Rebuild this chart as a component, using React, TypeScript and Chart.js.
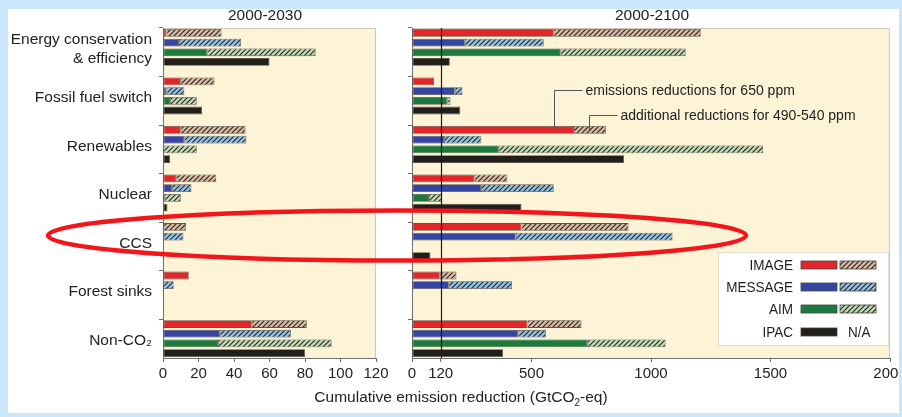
import { useEffect, useRef } from 'react';
import { Chart, registerables } from 'chart.js';

Chart.register(...registerables);

const FONT = "'Liberation Sans', Arial, Helvetica, sans-serif";

const categories = [
  'Energy conservation\n& efficiency',
  'Fossil fuel switch',
  'Renewables',
  'Nuclear',
  'CCS',
  'Forest sinks',
  'Non-CO₂',
];
const models = ['IMAGE', 'MESSAGE', 'AIM', 'IPAC'];

// 2000-2030 (GtCO2-eq): reductions for 650 ppm, and additional for 490-540 ppm
const image650_2030 = [2, 10, 10, 7.5, null, 14.5, 50];
const imageAdd_2030 = [31, 19, 36.5, 22.5, 13, null, 31];
const message650_2030 = [9, 2, 12, 5, null, null, 32];
const messageAdd_2030 = [35, 10, 35, 11, 11.5, 6, 40];
const aim650_2030 = [25, 4, null, 1, null, null, 31];
const aimAdd_2030 = [61, 15, 19, 9, null, null, 64];
const ipac650_2030 = [60, 22, 4, 2.5, 0.6, null, 80];

// 2000-2100
const image650_2100 = [593, 92, 678, 262, 458, 116, 483];
const imageAdd_2100 = [615, null, 133, 137, 448, 70, 226];
const message650_2100 = [221, 179, 134, 289, 434, 154, 445];
const messageAdd_2100 = [330, 32, 156, 304, 656, 265, 115];
const aim650_2100 = [622, 148, 363, 71, null, null, 733];
const aimAdd_2100 = [523, 13, 1106, 53, null, null, 328];
const ipac650_2100 = [158, 202, 887, 458, 77, null, 381];

const ticks2030 = [0, 20, 40, 60, 80, 100, 120];
const ticks2100 = [0, 120, 500, 1000, 1500, 2000];
const marker2100 = 120;

const annotations2100 = [
  { text: 'emissions reductions for 650 ppm', value: 593, barRow: 10, textRow: 5.9 },
  { text: 'additional reductions for 490-540 ppm', value: 740, barRow: 10, textRow: 8.45 },
];

const solidColors = ['#e2272b', '#3445a5', '#1d7a3f', '#221e1b'];
const hatchColors = ['#dab9a3', '#8fc3ea', '#bedcb6', null];

const GROUP = 5;
const rowCount = categories.length * GROUP - 1;
const rowLabels = Array.from({ length: rowCount }, (_, r) => 'r' + r);

const PLOT_TOP = 28;
const PLOT_BOTTOM = 358;
const rowPitch = (PLOT_BOTTOM - PLOT_TOP) / rowCount;

function makeHatch(bg: string): CanvasPattern {
  const s = 5;
  const c = document.createElement('canvas');
  c.width = s;
  c.height = s;
  const g = c.getContext('2d')!;
  g.fillStyle = bg;
  g.fillRect(0, 0, s, s);
  g.strokeStyle = '#2a2522';
  g.lineWidth = 1.15;
  g.beginPath();
  g.moveTo(0, s);
  g.lineTo(s, 0);
  g.moveTo(-1, 1);
  g.lineTo(1, -1);
  g.moveTo(s - 1, s + 1);
  g.lineTo(s + 1, s - 1);
  g.stroke();
  return g.createPattern(c, 'repeat')!;
}

function toRows(values: (number | null)[], model: number) {
  const out: (number | null)[] = new Array(rowCount).fill(null);
  values.forEach((v, g) => {
    out[g * GROUP + model] = v;
  });
  return out;
}

const framePlugin = {
  id: 'frame',
  beforeDraw(chart: any) {
    const { ctx, chartArea: a } = chart;
    ctx.save();
    ctx.fillStyle = '#fdf3d6';
    ctx.fillRect(a.left, a.top, a.right - a.left, a.bottom - a.top);
    ctx.strokeStyle = '#cfc8b8';
    ctx.lineWidth = 1;
    ctx.beginPath();
    ctx.moveTo(a.left, a.top + 0.5);
    ctx.lineTo(a.right - 0.5, a.top + 0.5);
    ctx.lineTo(a.right - 0.5, a.bottom);
    ctx.stroke();
    ctx.restore();
  },
};

const markerPlugin = {
  id: 'marker',
  afterDatasetsDraw(chart: any) {
    const { ctx, chartArea: a, scales } = chart;
    const x = Math.round(scales.x.getPixelForValue(marker2100)) + 0.5;
    ctx.save();
    ctx.strokeStyle = '#1a1a1a';
    ctx.lineWidth = 1.2;
    ctx.beginPath();
    ctx.moveTo(x, a.top);
    ctx.lineTo(x, a.bottom);
    ctx.stroke();
    ctx.restore();
  },
};

function makeAnnotationPlugin() {
  return {
    id: 'notes',
    afterDraw(chart: any) {
      const { ctx, scales } = chart;
      ctx.save();
      annotations2100.forEach((n) => {
        const x = Math.round(scales.x.getPixelForValue(n.value)) + 0.5;
        const yb = scales.y.getPixelForValue(n.barRow);
        const yt = Math.round(scales.y.getPixelForValue(n.textRow)) + 0.5;
        ctx.strokeStyle = '#555';
        ctx.lineWidth = 1;
        ctx.beginPath();
        ctx.moveTo(x, yb);
        ctx.lineTo(x, yt);
        ctx.lineTo(x + 28, yt);
        ctx.stroke();
        ctx.fillStyle = '#222';
        ctx.font = `14px ${FONT}`;
        ctx.textAlign = 'left';
        ctx.textBaseline = 'middle';
        ctx.fillText(n.text, x + 31, yt + 0.5);
      });
      ctx.restore();
    },
  };
}

function makeLegendPlugin(patterns: (CanvasPattern | null)[]) {
  return {
    id: 'legendBox',
    afterDraw(chart: any) {
      const { ctx, chartArea: a } = chart;
      const w = 171;
      const h = 94;
      const x0 = a.right - 1 - w;
      const y0 = a.bottom - 12 - h;
      ctx.save();
      ctx.fillStyle = '#ffffff';
      ctx.fillRect(x0, y0, w, h);
      ctx.strokeStyle = '#e4ded0';
      ctx.lineWidth = 1;
      ctx.strokeRect(x0 + 0.5, y0 + 0.5, w - 1, h - 1);
      models.forEach((m, i) => {
        const cy = Math.round(y0 + 13 + i * 22.2);
        ctx.save();
        ctx.translate(x0 + 75, cy);
        ctx.scale(0.9, 1);
        ctx.font = `15px ${FONT}`;
        ctx.textAlign = 'right';
        ctx.textBaseline = 'middle';
        ctx.fillStyle = '#1e1e1e';
        ctx.fillText(m, 0, 1);
        ctx.restore();
        ctx.fillStyle = solidColors[i];
        ctx.fillRect(x0 + 83, cy - 4, 36, 8);
        ctx.strokeStyle = '#444';
        ctx.lineWidth = 0.8;
        ctx.strokeRect(x0 + 83, cy - 4, 36, 8);
        const p = patterns[i];
        if (p) {
          ctx.fillStyle = p;
          ctx.fillRect(x0 + 122, cy - 4, 36, 8);
          ctx.strokeRect(x0 + 122, cy - 4, 36, 8);
        } else {
          ctx.save();
          ctx.translate(x0 + 130, cy);
          ctx.scale(0.9, 1);
          ctx.font = `15px ${FONT}`;
          ctx.textAlign = 'left';
          ctx.textBaseline = 'middle';
          ctx.fillStyle = '#1e1e1e';
          ctx.fillText('N/A', 0, 1);
          ctx.restore();
        }
      });
      ctx.restore();
    },
  };
}

function makeConfig(
  solid: (number | null)[][],
  add: ((number | null)[] | null)[],
  patterns: (CanvasPattern | null)[],
  max: number,
  tickValues: number[],
  yWidth: number,
  rightPad: number,
  showLabels: boolean,
  plugins: any[]
): any {
  const datasets: any[] = [];
  models.forEach((m, i) => {
    datasets.push({
      label: m + ' 650 ppm',
      data: toRows(solid[i], i),
      backgroundColor: solidColors[i],
      borderColor: 'rgba(40,30,25,0.75)',
      borderWidth: 0.8,
      borderSkipped: false,
      stack: 's',
      categoryPercentage: 1,
      barPercentage: 0.8,
    });
    const ad = add[i];
    if (ad) {
      datasets.push({
        label: m + ' 490-540 ppm',
        data: toRows(ad, i),
        backgroundColor: patterns[i],
        borderColor: 'rgba(40,30,25,0.75)',
        borderWidth: 0.8,
        borderSkipped: false,
        stack: 's',
        categoryPercentage: 1,
        barPercentage: 0.8,
      });
    }
  });

  return {
    type: 'bar',
    data: { labels: rowLabels, datasets },
    options: {
      indexAxis: 'y',
      responsive: false,
      animation: false,
      events: [],
      layout: { padding: { top: PLOT_TOP, right: rightPad, bottom: 0, left: 0 } },
      plugins: { legend: { display: false }, tooltip: { enabled: false }, title: { display: false } },
      scales: {
        x: {
          type: 'linear',
          min: 0,
          max,
          stacked: true,
          afterBuildTicks: (s: any) => {
            s.ticks = tickValues.map((v) => ({ value: v }));
          },
          afterFit: (s: any) => {
            s.height = 417 - PLOT_BOTTOM;
            s.paddingLeft = 0;
            s.paddingRight = 0;
          },
          grid: { drawOnChartArea: false, drawTicks: true, tickLength: 4, color: '#6e6e6e' },
          border: { color: '#6e6e6e', width: 1 },
          ticks: {
            autoSkip: false,
            maxRotation: 0,
            padding: 3,
            color: '#222',
            font: { family: FONT, size: 15 },
            callback: (v: any) => String(v),
          },
        },
        y: {
          type: 'category',
          stacked: true,
          offset: true,
          afterFit: (s: any) => {
            s.width = yWidth;
            s.paddingTop = 0;
            s.paddingBottom = 0;
          },
          grid: {
            offset: true,
            drawOnChartArea: false,
            drawTicks: true,
            tickLength: 4,
            color: (c: any) => (c.index % GROUP === 0 && c.index < rowCount ? '#6e6e6e' : 'rgba(0,0,0,0)'),
          },
          border: { color: '#6e6e6e', width: 1 },
          ticks: {
            autoSkip: false,
            padding: 7,
            labelOffset: rowPitch / 2 + 2,
            color: '#222',
            font: { family: FONT, size: 15.5, lineHeight: 1.25 },
            callback: (_v: any, index: number) => {
              if (!showLabels || index % GROUP !== 1) return '';
              return categories[Math.floor(index / GROUP)].split('\n');
            },
          },
        },
      },
    },
    plugins,
  };
}

export default function App() {
  const leftRef = useRef<HTMLCanvasElement>(null);
  const rightRef = useRef<HTMLCanvasElement>(null);

  useEffect(() => {
    const patterns = hatchColors.map((c) => (c ? makeHatch(c) : null));
    const left = new Chart(
      leftRef.current!,
      makeConfig(
        [image650_2030, message650_2030, aim650_2030, ipac650_2030],
        [imageAdd_2030, messageAdd_2030, aimAdd_2030, null],
        patterns,
        120,
        ticks2030,
        163,
        24,
        true,
        [framePlugin]
      )
    );
    const right = new Chart(
      rightRef.current!,
      makeConfig(
        [image650_2100, message650_2100, aim650_2100, ipac650_2100],
        [imageAdd_2100, messageAdd_2100, aimAdd_2100, null],
        patterns,
        2000,
        ticks2100,
        12,
        12,
        false,
        [framePlugin, markerPlugin, makeAnnotationPlugin(), makeLegendPlugin(patterns)]
      )
    );
    return () => {
      left.destroy();
      right.destroy();
    };
  }, []);

  const textStyle: any = {
    position: 'absolute',
    fontFamily: FONT,
    fontSize: 15.5,
    color: '#222',
    whiteSpace: 'nowrap',
    lineHeight: '18px',
  };

  return (
    <div
      style={{
        position: 'fixed',
        left: 0,
        top: 0,
        width: 902,
        height: 417,
        background: '#cbe7fb',
        overflow: 'hidden',
      }}
    >
      <div style={{ position: 'absolute', left: 8, top: 9, width: 891, height: 404, background: '#ffffff' }} />
      <canvas ref={leftRef} width={400} height={417} style={{ position: 'absolute', left: 0, top: 0 }} />
      <canvas ref={rightRef} width={502} height={417} style={{ position: 'absolute', left: 400, top: 0 }} />
      <div style={{ ...textStyle, left: 265, top: 6, transform: 'translateX(-50%)' }}>2000-2030</div>
      <div style={{ ...textStyle, left: 652, top: 6, transform: 'translateX(-50%)' }}>2000-2100</div>
      <div style={{ ...textStyle, left: 461, top: 388, transform: 'translateX(-50%)' }}>
        Cumulative emission reduction (GtCO
        <span style={{ fontSize: 10, position: 'relative', top: 4 }}>2</span>
        -eq)
      </div>
      <svg
        width={902}
        height={417}
        style={{ position: 'absolute', left: 0, top: 0, pointerEvents: 'none' }}
      >
        <ellipse cx={397} cy={235.5} rx={349} ry={25} fill="none" stroke="#f2161b" strokeWidth={4.5} />
      </svg>
      <div
        style={{
          position: 'absolute',
          left: 0,
          top: 0,
          width: 902,
          height: 417,
          boxSizing: 'border-box',
          borderStyle: 'solid',
          borderColor: '#cbe7fb',
          borderWidth: '9px 3px 4px 8px',
          pointerEvents: 'none',
        }}
      />
    </div>
  );
}
